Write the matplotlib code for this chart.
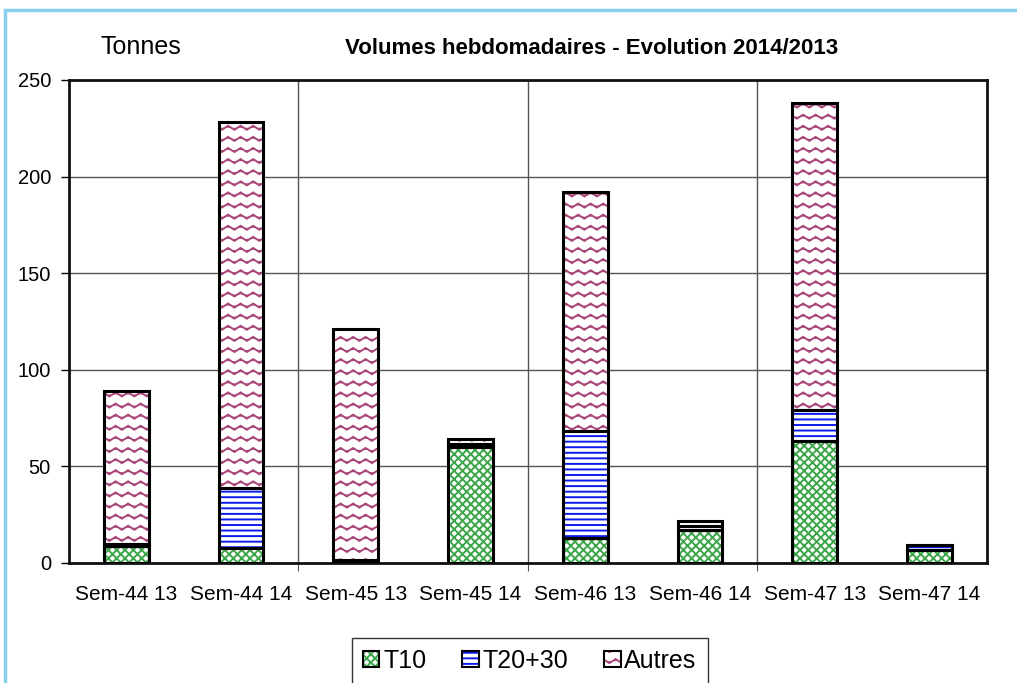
import numpy as np
import matplotlib
matplotlib.use('Agg')
import matplotlib.pyplot as plt
import matplotlib.hatch as mhatch
from matplotlib.path import Path
from matplotlib.patches import Patch, Rectangle

# data (tonnes)
weeks = ['Sem-44 13', 'Sem-44 14', 'Sem-45 13', 'Sem-45 14',
         'Sem-46 13', 'Sem-46 14', 'Sem-47 13', 'Sem-47 14']
t10 = [9, 8, 0, 60, 13, 17, 63, 6.5]
t2030 = [1, 31, 1.5, 1.5, 55.5, 2, 16, 3]
autres = [79, 189, 119.5, 2.5, 123.5, 2.5, 159, 0]


# wavy hatch for "Autres" (takes over the 'o' hatch character)
class Waves(mhatch.HatchPatternBase):
    def __init__(self, hatch, density):
        self.num_lines = int(hatch.count('o') * 9)
        self.periods = 8
        self.pts = self.periods * 4 + 1
        self.num_vertices = self.num_lines * self.pts

    def set_vertices_and_codes(self, vertices, codes):
        xs = np.linspace(0, 1, self.pts)
        wave = 0.02 * np.sin(xs * self.periods * 2 * np.pi)
        for i in range(self.num_lines):
            y0 = (i + 0.5) / self.num_lines
            sl = slice(i * self.pts, (i + 1) * self.pts)
            vertices[sl, 0] = xs
            vertices[sl, 1] = y0 + wave
            codes[sl] = Path.LINETO
            codes[i * self.pts] = Path.MOVETO


mhatch._hatch_types = [h for h in mhatch._hatch_types if h is not mhatch.SmallCircles] + [Waves]

plt.rcParams['font.family'] = ['Liberation Sans', 'DejaVu Sans']
plt.rcParams['hatch.linewidth'] = 1.4

fig = plt.figure(figsize=(10.17, 6.83), dpi=100)
ax = fig.add_axes([0.0678, 0.1757, 0.9027, 0.7072])

x = np.arange(len(weeks))
w = 0.39
series = [('T10', t10, '#3ea64a', 'xxxx'),
          ('T20+30', t2030, '#0a1cf0', '---'),
          ('Autres', autres, '#a8467a', 'o')]

bottom = np.zeros(len(weeks))
handles = []
for name, vals, col, hat in series:
    vals = np.array(vals, dtype=float)
    ax.bar(x, vals, w, bottom=bottom, color='white', edgecolor=col, hatch=hat,
           linewidth=0, zorder=3)
    ax.bar(x, vals, w, bottom=bottom, fill=False, edgecolor='black',
           linewidth=2.2, zorder=4)
    bottom = bottom + vals
    handles.append((Patch(facecolor='white', edgecolor=col, hatch=hat, linewidth=0),
                    Patch(fill=False, edgecolor='black', linewidth=1.5)))

ax.set_xlim(-0.5, len(weeks) - 0.5)
ax.set_ylim(0, 250)
ax.set_yticks([0, 50, 100, 150, 200, 250])
ax.set_xticks([1.5, 3.5, 5.5])
ax.set_xticklabels([])
ax.set_xticks(x, minor=True)
ax.set_xticklabels(weeks, minor=True)
ax.tick_params(axis='x', which='minor', length=0, pad=16, labelsize=15)
ax.tick_params(axis='x', which='major', length=6, color='#555555')
ax.tick_params(axis='y', length=6, width=1, labelsize=14.5, pad=7)
ax.grid(True, axis='y', color='#555555', linewidth=1, zorder=1)
ax.grid(True, axis='x', which='major', color='#555555', linewidth=1, zorder=1)
for s in ax.spines.values():
    s.set_linewidth(2)
    s.set_color('#111111')

fig.text(0.139, 0.931, 'Tonnes', fontsize=18, ha='center', va='center')
fig.text(0.582, 0.929, 'Volumes hebdomadaires - Evolution 2014/2013', fontsize=16,
         fontweight='bold', ha='center', va='center')

leg = fig.legend(handles, [s[0] for s in series], loc='lower center',
                 bbox_to_anchor=(0.521, -0.02), ncol=3, fontsize=18,
                 frameon=True, fancybox=False, edgecolor='black',
                 handlelength=0.65, handleheight=0.65, handletextpad=0.15,
                 columnspacing=1.45, borderpad=0.45)
leg.get_frame().set_linewidth(1)

# light blue frame around the chart area
fig.add_artist(Rectangle((0.005, -0.05), 1.2, 1.035, transform=fig.transFigure,
                         fill=False, edgecolor='#87ceeb', linewidth=2.5))

fig.savefig('out.png', dpi=100)
